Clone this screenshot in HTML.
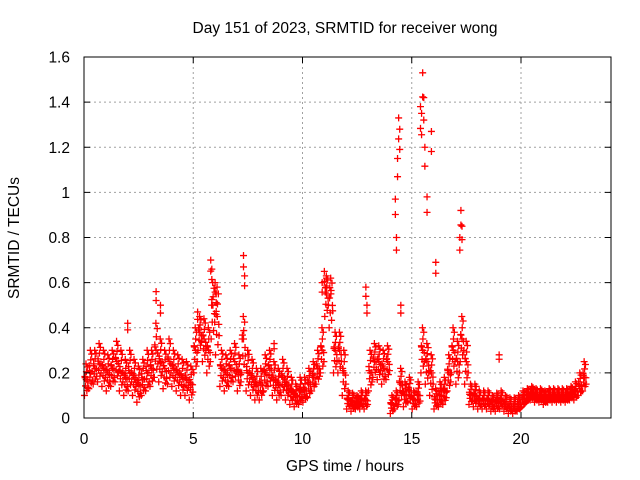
<!DOCTYPE html>
<html><head><meta charset="utf-8"><style>
body{margin:0;background:#fff}
svg{display:block;font-family:"Liberation Sans",sans-serif}
</style></head><body>
<svg id="c" width="640" height="480">
<text x="345" y="33" text-anchor="middle" font-size="15.5">Day 151 of 2023, SRMTID for receiver wong</text>
<text x="345" y="471" text-anchor="middle" font-size="15.5">GPS time / hours</text>
<text transform="translate(19,238) rotate(-90)" text-anchor="middle" font-size="15.5">SRMTID / TECUs</text>
<g id="grid"></g><g id="marks"></g><g id="axes"></g>
</svg>
<script>
const xTicks=[0,5,10,15,20];
const yTicks=[0,0.2,0.4,0.6,0.8,1,1.2,1.4,1.6];
const yTickLabels=["0","0.2","0.4","0.6","0.8","1","1.2","1.4","1.6"];
const step=0.2;
const midVals=[.17,.2,.22,.24,.22,.2,.22,.25,.2,.18,
.2,.18,.15,.17,.2,.22,.3,.25,.22,.25,
.22,.2,.18,.17,.15,.3,.38,.35,.3,.5,
.45,.22,.2,.22,.25,.2,.35,.2,.18,.15,
.15,.2,.22,.17,.15,.18,.15,.12,.1,.12,
.12,.15,.18,.22,.3,.55,.55,.3,.3,.2,
.08,.07,.07,.08,.08,.2,.25,.25,.22,.25,
.06,.08,.15,.1,.12,.08,.1,.3,.25,.2,
.08,.1,.12,.2,.3,.25,.35,.25,.1,.1,
.08,.08,.08,.07,.07,.08,.06,.05,.05,.06,
.08,.1,.11,.1,.1,.09,.1,.1,.1,.1,
.1,.11,.12,.14,.18];
const lowVals=[.1,.13,.15,.16,.14,.12,.14,.16,.12,.1,
.12,.1,.07,.1,.12,.14,.18,.16,.13,.15,
.14,.12,.1,.1,.08,.2,.3,.25,.2,.35,
.28,.14,.12,.14,.16,.12,.2,.12,.1,.08,
.08,.12,.14,.1,.08,.1,.08,.06,.05,.06,
.07,.09,.12,.15,.2,.45,.4,.2,.2,.1,
.04,.03,.04,.04,.04,.12,.18,.17,.15,.17,
.02,.04,.08,.05,.07,.04,.05,.2,.15,.1,
.04,.05,.06,.12,.2,.15,.25,.15,.06,.05,
.04,.04,.04,.03,.03,.04,.03,.02,.02,.03,
.05,.07,.08,.07,.07,.06,.07,.07,.07,.07,
.07,.08,.08,.1,.12];
const highVals=[.24,.3,.3,.33,.3,.28,.3,.34,.3,.26,
.3,.26,.23,.26,.3,.3,.42,.35,.3,.35,
.3,.28,.26,.25,.23,.4,.45,.44,.4,.6,
.58,.3,.28,.3,.33,.28,.45,.3,.26,.22,
.22,.28,.3,.25,.22,.26,.22,.18,.15,.18,
.18,.22,.25,.3,.4,.63,.62,.38,.38,.3,
.12,.11,.1,.12,.12,.3,.33,.32,.3,.32,
.1,.12,.22,.16,.18,.12,.16,.4,.33,.28,
.13,.16,.18,.28,.4,.34,.45,.34,.15,.15,
.12,.12,.12,.1,.11,.12,.1,.09,.09,.1,
.12,.13,.14,.13,.13,.12,.13,.13,.13,.13,
.13,.14,.16,.2,.25];
const spikeTimes=[2.0,3.3,3.5,5.2,5.8,5.85,6.0,6.05,7.3,7.35,8.7,10.9,11.0,11.1,12.9,12.95,14.25,14.3,14.35,14.4,14.45,14.5,15.4,15.45,15.5,15.55,15.6,15.7,15.9,16.1,17.2,17.25,17.3,19.0];
const spikeVals=[.42,.56,.5,.47,.7,.66,.6,.55,.72,.63,.33,.6,.65,.62,.58,.5,.97,.8,1.15,1.33,1.28,.5,1.38,1.35,1.53,1.42,1.2,.98,1.27,.69,.8,.92,.85,.28];

const L=84,R=611,T=57,B=418;
const X=h=>L+h*(521-84)/20;
const Y=v=>B-v*(B-T)/1.6;
const NS="http://www.w3.org/2000/svg";
function mk(t,a,p){const e=document.createElementNS(NS,t);for(const k in a)e.setAttribute(k,a[k]);p.appendChild(e);return e;}
const grid=document.getElementById('grid'),marks=document.getElementById('marks'),axes=document.getElementById('axes');
xTicks.forEach(t=>{
  if(t>0){const g=mk('line',{x1:X(t),x2:X(t),y1:T,y2:B,stroke:'#a0a0a0','stroke-dasharray':'2,3'},grid);
  
  }
  mk('line',{x1:X(t),x2:X(t),y1:B,y2:B-6,stroke:'#000'},axes);
  mk('line',{x1:X(t),x2:X(t),y1:T,y2:T+6,stroke:'#000'},axes);
  const tx=mk('text',{x:X(t),y:444,'text-anchor':'middle','font-size':15.5},axes);tx.textContent=t;
  
  
});
yTicks.forEach((t,i)=>{
  if(t>0&&t<1.6){const g=mk('line',{x1:L,x2:R,y1:Y(t),y2:Y(t),stroke:'#a0a0a0','stroke-dasharray':'2,3'},grid);
  
  }
  mk('line',{x1:L,x2:L+6,y1:Y(t),y2:Y(t),stroke:'#000'},axes);
  mk('line',{x1:R,x2:R-6,y1:Y(t),y2:Y(t),stroke:'#000'},axes);
  const tx=mk('text',{x:L-14,y:Y(t)+5.5,'text-anchor':'end','font-size':15.5},axes);tx.textContent=yTickLabels[i];
  
  
});
const fr=mk('rect',{x:L,y:T,width:R-L,height:B-T,fill:'none',stroke:'#000'},axes);


let d='';
function plus(h,v){const x=X(h),y=Y(v);d+=`M${x-3.5},${y}h7M${x},${y-3.5}v7`;}
const fr2=[0,0.15,0.3,0.45,0.6,0.75,0.9,1];
const off=[0.02,0.13,0.07,0.17,0.04,0.11,0.15,0.09];
midVals.forEach((m,i)=>{
  const h=i*step,lo=lowVals[i],hi=highVals[i];
  fr2.forEach((f,k)=>{plus(h+off[k],lo+(hi-lo)*f);});
  plus(h+0.1,m);plus(h+0.05,m*1.05);plus(h+0.18,(m+lo)/2);
});
spikeTimes.forEach((t,i)=>{plus(t,spikeVals[i]);plus(t,spikeVals[i]*0.93);});
const p=mk('path',{d:d,stroke:'#ff0000','stroke-width':1.3,fill:'none'},marks);


</script>
</body></html>
